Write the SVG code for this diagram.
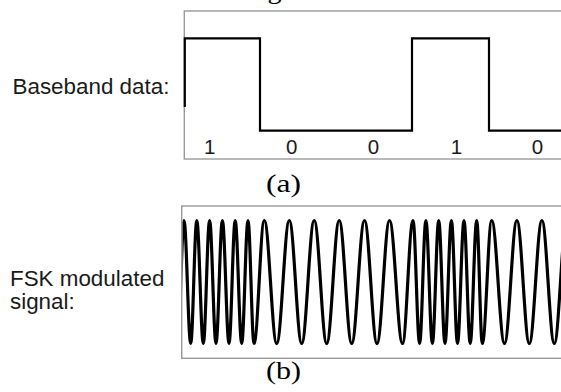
<svg xmlns="http://www.w3.org/2000/svg" width="561" height="392" viewBox="0 0 561 392">
<style>
  .lbl { font-family: "Liberation Sans", Arial, sans-serif; font-size: 22.4px; fill: #1a1a1a; }
  .bit { font-family: "Liberation Sans", Arial, sans-serif; font-size: 20.5px; fill: #1a1a1a; text-anchor: middle; }
  .cap { font-family: "Liberation Serif", "Times New Roman", serif; font-size: 25px; fill: #000; }
  .frame { fill: #fff; stroke: #9a9a9a; stroke-width: 1.4; }
  .sig { fill: none; stroke: #000; stroke-linejoin: miter; }
</style>
<defs>
  <clipPath id="clipB"><rect x="182.5" y="206.7" width="400" height="151"/></clipPath>
</defs>
<rect width="561" height="392" fill="#fff"/>

<text class="cap" x="267.5" y="-1.2" textLength="14" lengthAdjust="spacingAndGlyphs">g</text>

<g id="panel-a">
  <rect class="frame" x="184.3" y="11" width="400" height="148"/>
  <path class="sig" stroke-width="2.2" d="M184.8,107 V38.3 H260 V130.7 H412 V38.3 H489 V130.7 H565"/>
  <text class="bit" x="209.7" y="154">1</text>
  <text class="bit" x="291.7" y="154">0</text>
  <text class="bit" x="373.5" y="154">0</text>
  <text class="bit" x="456.5" y="154">1</text>
  <text class="bit" x="537.5" y="154">0</text>
  <text class="lbl" x="12.5" y="94">Baseband data:</text>
  <text class="cap" x="266" y="191.5" textLength="35" lengthAdjust="spacingAndGlyphs">(a)</text>
</g>

<g id="panel-b">
  <rect class="frame" x="181.7" y="206" width="400" height="152.3"/>
  <g clip-path="url(#clipB)">
    <path class="sig" stroke-width="3.2" d="M177.7,343.5 C179.99,343.5 181.71,220.5 184,220.5 C186.44,220.5 188.26,343.5 190.7,343.5 C192.92,343.5 194.58,220.5 196.8,220.5 C199.17,220.5 200.93,343.5 203.3,343.5 C205.59,343.5 207.31,220.5 209.6,220.5 C211.930,220.5 213.67,343.5 216,343.5 C218.33,343.5 220.07,220.5 222.4,220.5 C224.8,220.5 226.6,343.5 229,343.5 C231.26,343.5 232.94,220.5 235.2,220.5 C237.57,220.5 239.33,343.5 241.7,343.5 C243.99,343.5 245.71,220.5 248,220.5 C250.18,220.5 251.82,343.5 254,343.5 C257.75,343.5 260.55,220.5 264.3,220.5 C268.81,220.5 272.19,343.5 276.7,343.5 C281.29,343.5 284.71,220.5 289.3,220.5 C293.81,220.5 297.19,343.5 301.7,343.5 C306.25,343.5 309.65,220.5 314.2,220.5 C318.75,220.5 322.15,343.5 326.7,343.5 C331.25,343.5 334.65,220.5 339.2,220.5 C343.75,220.5 347.15,343.5 351.7,343.5 C356.36,343.5 359.84,220.5 364.5,220.5 C369.05,220.5 372.45,343.5 377,343.5 C381.55,343.5 384.95,220.5 389.5,220.5 C394.23,220.5 397.77,343.5 402.5,343.5 C406.32,343.5 409.18,220.5 413,220.5 C415.4,220.5 417.2,343.5 419.6,343.5 C421.89,343.5 423.61,220.5 425.9,220.5 C428.27,220.5 430.03,343.5 432.4,343.5 C434.69,343.5 436.41,220.5 438.7,220.5 C440.99,220.5 442.71,343.5 445,343.5 C447.33,343.5 449.07,220.5 451.4,220.5 C453.62,220.5 455.28,343.5 457.5,343.5 C459.87,343.5 461.63,220.5 464,220.5 C466.26,220.5 467.94,343.5 470.2,343.5 C472.57,343.5 474.33,220.5 476.7,220.5 C478.74,220.5 480.26,343.5 482.3,343.5 C485.72,343.5 488.28,220.5 491.7,220.5 C496.36,220.5 499.84,343.5 504.5,343.5 C509.01,343.5 512.39,220.5 516.9,220.5 C521.41,220.5 524.79,343.5 529.3,343.5 C533.89,343.5 537.31,220.5 541.9,220.5 C546.41,220.5 549.79,343.5 554.3,343.5 C558.81,343.5 562.19,220.5 566.7,220.5"/>
  </g>
  <text class="lbl" x="10" y="285.7">FSK modulated</text>
  <text class="lbl" x="10" y="308.5">signal:</text>
  <text class="cap" x="266" y="378.5" textLength="35" lengthAdjust="spacingAndGlyphs">(b)</text>
</g>
</svg>
